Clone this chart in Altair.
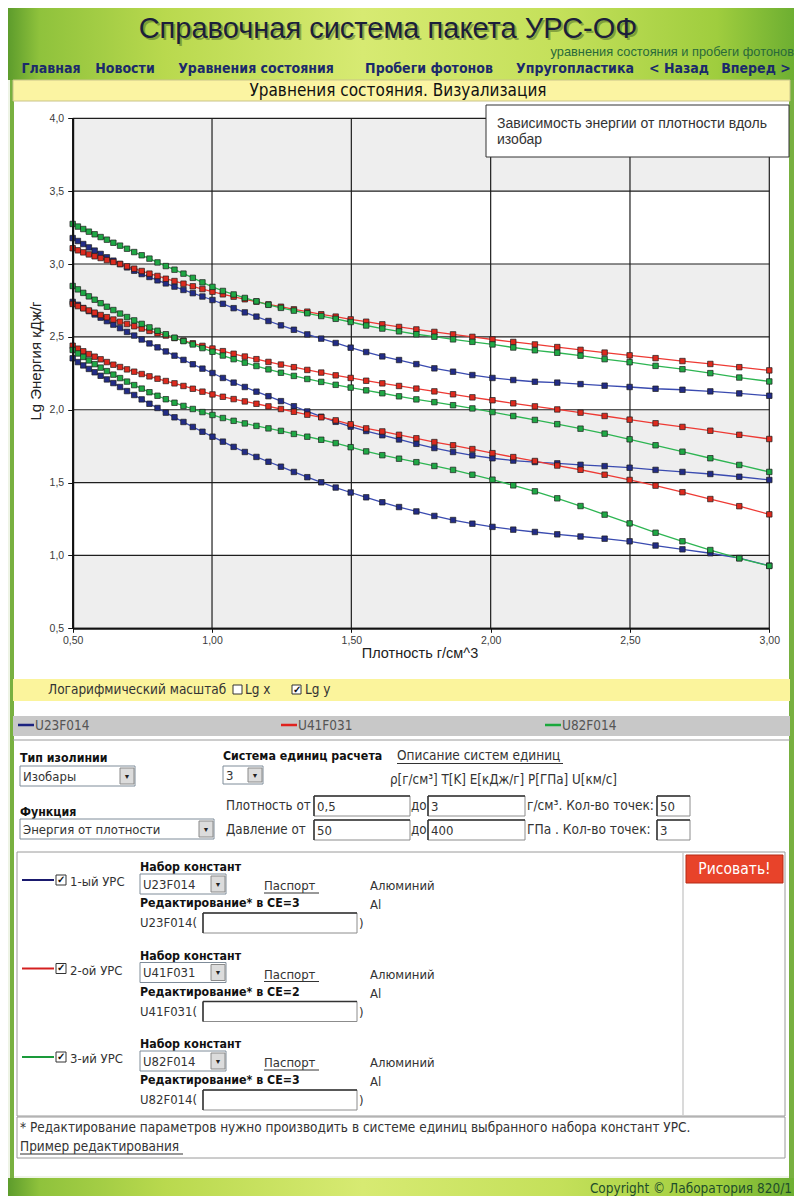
import altair as alt
import pandas as pd

# ---------------- data ----------------
density = [0.5, 0.5186, 0.5379, 0.558, 0.5788, 0.6003, 0.6227, 0.6459, 0.6699, 0.6949,
           0.7207, 0.7476, 0.7754, 0.8043, 0.8342, 0.8653, 0.8975, 0.931, 0.9656, 1.0016,
           1.0389, 1.0776, 1.1177, 1.1594, 1.2025, 1.2473, 1.2938, 1.342, 1.392, 1.4438,
           1.4976, 1.5533, 1.6112, 1.6712, 1.7334, 1.798, 1.865, 1.9344, 2.0065, 2.0812,
           2.1587, 2.2391, 2.3225, 2.409, 2.4987, 2.5918, 2.6883, 2.7884, 2.8923, 3.0]

models = ["U23F014", "U41F031", "U82F014"]
pressures = [50, 225, 400]

u23_p50 = [2.353, 2.327, 2.304, 2.280, 2.257, 2.233, 2.208, 2.183, 2.156, 2.128,
           2.101, 2.071, 2.041, 2.012, 1.980, 1.948, 1.916, 1.882, 1.849, 1.815,
           1.781, 1.745, 1.710, 1.676, 1.643, 1.609, 1.573, 1.537, 1.502, 1.466,
           1.432, 1.399, 1.365, 1.332, 1.302, 1.271, 1.243, 1.218, 1.196, 1.177,
           1.161, 1.145, 1.130, 1.115, 1.097, 1.068, 1.042, 1.015, 0.982, 0.930]
u23_p225 = [2.740, 2.720, 2.698, 2.677, 2.654, 2.632, 2.608, 2.584, 2.560, 2.534,
            2.509, 2.482, 2.455, 2.428, 2.400, 2.371, 2.342, 2.312, 2.282, 2.252,
            2.218, 2.186, 2.156, 2.124, 2.093, 2.059, 2.024, 1.988, 1.952, 1.917,
            1.884, 1.854, 1.825, 1.796, 1.766, 1.737, 1.710, 1.687, 1.667, 1.651,
            1.641, 1.632, 1.622, 1.613, 1.602, 1.587, 1.573, 1.559, 1.540, 1.518]
u23_p400 = [3.178, 3.158, 3.137, 3.114, 3.092, 3.069, 3.046, 3.023, 3.000, 2.977,
            2.954, 2.931, 2.911, 2.888, 2.867, 2.845, 2.822, 2.800, 2.777, 2.753,
            2.727, 2.697, 2.668, 2.639, 2.609, 2.579, 2.549, 2.517, 2.488, 2.458,
            2.426, 2.396, 2.366, 2.341, 2.313, 2.284, 2.261, 2.238, 2.218, 2.204,
            2.192, 2.186, 2.176, 2.165, 2.156, 2.144, 2.137, 2.126, 2.112, 2.096]
u41_p50 = [2.439, 2.419, 2.401, 2.382, 2.364, 2.346, 2.327, 2.309, 2.293, 2.277,
           2.261, 2.245, 2.229, 2.213, 2.197, 2.181, 2.163, 2.144, 2.124, 2.105,
           2.089, 2.073, 2.057, 2.041, 2.023, 2.005, 1.986, 1.966, 1.948, 1.927,
           1.900, 1.872, 1.851, 1.828, 1.804, 1.778, 1.756, 1.730, 1.702, 1.675,
           1.648, 1.617, 1.588, 1.554, 1.518, 1.479, 1.434, 1.387, 1.338, 1.282]
u41_p225 = [2.726, 2.711, 2.696, 2.681, 2.666, 2.650, 2.635, 2.619, 2.604, 2.588,
            2.573, 2.557, 2.541, 2.525, 2.509, 2.492, 2.474, 2.456, 2.438, 2.420,
            2.402, 2.384, 2.365, 2.347, 2.328, 2.310, 2.292, 2.273, 2.255, 2.236,
            2.218, 2.199, 2.181, 2.163, 2.145, 2.126, 2.106, 2.085, 2.065, 2.044,
            2.023, 2.002, 1.980, 1.957, 1.932, 1.907, 1.882, 1.856, 1.828, 1.799]
u41_p400 = [3.108, 3.094, 3.080, 3.066, 3.053, 3.041, 3.027, 3.014, 3.000, 2.984,
            2.968, 2.952, 2.934, 2.918, 2.899, 2.883, 2.865, 2.847, 2.828, 2.810,
            2.792, 2.776, 2.758, 2.742, 2.723, 2.707, 2.689, 2.673, 2.655, 2.639,
            2.620, 2.604, 2.586, 2.568, 2.551, 2.534, 2.517, 2.500, 2.482, 2.465,
            2.448, 2.430, 2.411, 2.392, 2.373, 2.354, 2.334, 2.314, 2.292, 2.270]
u82_p50 = [2.410, 2.386, 2.362, 2.338, 2.313, 2.289, 2.265, 2.241, 2.217, 2.193,
           2.169, 2.145, 2.120, 2.096, 2.072, 2.048, 2.026, 2.005, 1.984, 1.964,
           1.943, 1.924, 1.906, 1.889, 1.872, 1.855, 1.834, 1.815, 1.794, 1.771,
           1.743, 1.714, 1.688, 1.664, 1.640, 1.614, 1.587, 1.554, 1.520, 1.481,
           1.440, 1.392, 1.339, 1.280, 1.220, 1.156, 1.097, 1.037, 0.980, 0.928]
u82_p225 = [2.849, 2.826, 2.802, 2.778, 2.755, 2.731, 2.707, 2.684, 2.660, 2.636,
            2.613, 2.589, 2.565, 2.542, 2.518, 2.494, 2.471, 2.448, 2.423, 2.398,
            2.372, 2.347, 2.323, 2.300, 2.277, 2.254, 2.232, 2.211, 2.191, 2.171,
            2.152, 2.133, 2.113, 2.092, 2.071, 2.052, 2.031, 2.009, 1.984, 1.957,
            1.930, 1.901, 1.870, 1.836, 1.797, 1.756, 1.712, 1.667, 1.621, 1.573]
u82_p400 = [3.275, 3.257, 3.240, 3.222, 3.204, 3.185, 3.167, 3.146, 3.126, 3.105,
            3.082, 3.060, 3.037, 3.011, 2.986, 2.961, 2.934, 2.905, 2.874, 2.843,
            2.815, 2.791, 2.767, 2.744, 2.720, 2.699, 2.680, 2.662, 2.643, 2.624,
            2.602, 2.578, 2.557, 2.538, 2.518, 2.501, 2.483, 2.466, 2.448, 2.427,
            2.408, 2.391, 2.371, 2.347, 2.326, 2.301, 2.278, 2.251, 2.221, 2.194]

x_ticks = [0.5, 1.0, 1.5, 2.0, 2.5, 3.0]
y_ticks = [0.5, 1.0, 1.5, 2.0, 2.5, 3.0, 3.5, 4.0]
band_lo = [0.5, 1.5, 2.5, 3.5]
band_hi = [1.0, 2.0, 3.0, 4.0]

series = {
    ("U23F014", 50): u23_p50, ("U23F014", 225): u23_p225, ("U23F014", 400): u23_p400,
    ("U41F031", 50): u41_p50, ("U41F031", 225): u41_p225, ("U41F031", 400): u41_p400,
    ("U82F014", 50): u82_p50, ("U82F014", 225): u82_p225, ("U82F014", 400): u82_p400,
}
rows = []
for (m, p), vals in series.items():
    for d, e in zip(density, vals):
        rows.append({"density": d, "energy": e, "model": m, "series": f"{m}-{p}"})
df = pd.DataFrame(rows)

# ---------------- styling ----------------
W, H = 786, 1188
SANS = "Liberation Sans, Arial, sans-serif"
NARROW = "Liberation Sans Narrow, Arial Narrow, DejaVu Sans Condensed, sans-serif"
line_colors = ["#3a4bb0", "#ee3a34", "#2db552"]
marker_colors = ["#222c86", "#dd2a1e", "#1fa845"]

XL, XR = 72.7 - 8, 769.3 - 8
YB, YT = 628.3 - 8, 118.3 - 8
XS = alt.Scale(domain=[0.5, 3.0], range=[XL, XR], nice=False, zero=False)
YS = alt.Scale(domain=[0.5, 4.0], range=[YB, YT], nice=False, zero=False)
AX = alt.Axis(values=x_ticks, orient="bottom", offset=YB - H, grid=False, title=None, zindex=2,
              labelExpr="replace(format(datum.value, '.2f'), '.', ',')",
              domainColor="#111", domainWidth=2, tickColor="#111", tickSize=4,
              labelColor="#3a3a3a", labelFont=SANS, labelFontSize=10.5, labelPadding=3,
              labelFlush=False, labelOverlap=False)
AY = alt.Axis(values=y_ticks, orient="left", offset=-XL, grid=False, title=None, zindex=2,
              labelExpr="replace(format(datum.value, '.1f'), '.', ',')",
              domainColor="#111", domainWidth=2, tickColor="#111", tickSize=5,
              labelColor="#3a3a3a", labelFont=SANS, labelFontSize=10.5, labelPadding=4,
              labelFlush=False, labelOverlap=False)

ONE = pd.DataFrame({"k": [0]})


def T(x, y, s, size=12.5, color="#333", weight="normal", align="left", font=SANS,
      angle=0, opacity=1.0):
    return alt.Chart(ONE).mark_text(
        text=s, fontSize=size, color=color, fontWeight=weight, align=align,
        baseline="middle", font=font, angle=angle, opacity=opacity
    ).encode(x=alt.value(x - 8), y=alt.value(y - 8))


def R(x1, y1, x2, y2, fill="white", stroke=None, sw=1.0):
    kw = {}
    if fill is None:
        kw["fillOpacity"] = 0
        kw["fill"] = "white"
    else:
        kw["fill"] = fill
    if stroke:
        kw["stroke"] = stroke
        kw["strokeWidth"] = sw
    return alt.Chart(ONE).mark_rect(**kw).encode(
        x=alt.value(x1 - 8), x2=alt.value(x2 - 8), y=alt.value(y1 - 8), y2=alt.value(y2 - 8))


def L(x1, y1, x2, y2, color="#999", w=1.0):
    return alt.Chart(ONE).mark_rule(color=color, strokeWidth=w).encode(
        x=alt.value(x1 - 8), x2=alt.value(x2 - 8), y=alt.value(y1 - 8), y2=alt.value(y2 - 8))


def grad(stops, vertical=False):
    return alt.LinearGradient(
        gradient="linear",
        stops=[alt.GradientStop(color=c, offset=o) for o, c in stops],
        x1=0, x2=0 if vertical else 1, y1=0, y2=1 if vertical else 0)


layers = []
# ---- page frame ----
green_h = grad([(0, "#5d9c2c"), (0.04, "#8fc23c"), (0.2, "#b9d94e"), (0.45, "#d7ea72"),
                (0.7, "#c4e05a"), (0.9, "#9fcd3e"), (1, "#6cae31")])
layers.append(R(8, 7, 796, 80, fill=green_h))
layers.append(R(10, 80, 14, 1178, fill="#78b040"))
layers.append(R(789, 80, 796, 1178, fill="#78b040"))
layers.append(R(14, 80, 789, 1176, fill="white"))
layers.append(R(8, 1178, 796, 1204, fill=green_h))

# header texts
layers.append(T(390, 31, "Справочная система пакета УРС-ОФ", size=29, color="#3b5a1e",
                align="center", opacity=0.45))
layers.append(T(388, 29, "Справочная система пакета УРС-ОФ", size=29, color="#1c1f3a",
                align="center"))
layers.append(T(794, 52, "уравнения состояния и пробеги фотонов", size=12.8, color="#2a6a3a", align="right"))
for cx, s in [(51, "Главная"), (125, "Новости"), (256, "Уравнения состояния"),
              (429, "Пробеги фотонов"), (575, "Упругопластика"), (679, "< Назад"),
              (756, "Вперед >")]:
    layers.append(T(cx, 69, s, size=14, color="#1b2a6b", weight="bold", align="center", font=NARROW))

# yellow title bar
layers.append(R(13, 80, 790, 101, fill="#fbf4a2", stroke="#c9c48a"))
layers.append(T(398, 91, "Уравнения состояния. Визуализация", size=17, color="#111",
                align="center", font=NARROW))

# ---- plot ----
bands = alt.Chart(pd.DataFrame({"lo": band_lo, "hi": band_hi})).mark_rect(fill="#eeeeee").encode(
    x=alt.XDatum(0.5, type="quantitative", scale=XS, axis=AX), x2=alt.X2Datum(3.0),
    y=alt.Y("lo:Q", scale=YS, axis=AY), y2="hi:Q")
vgrid = alt.Chart(pd.DataFrame({"xt": x_ticks})).mark_rule(color="#1e1e1e", strokeWidth=1.2).encode(
    x=alt.X("xt:Q", scale=XS, axis=AX),
    y=alt.YDatum(0.5, type="quantitative", scale=YS, axis=AY), y2=alt.Y2Datum(4.0))
hgrid = alt.Chart(pd.DataFrame({"yt": y_ticks})).mark_rule(color="#1e1e1e", strokeWidth=1.2).encode(
    y=alt.Y("yt:Q", scale=YS, axis=AY),
    x=alt.XDatum(0.5, type="quantitative", scale=XS, axis=AX), x2=alt.X2Datum(3.0))
lines = alt.Chart(df).mark_line(strokeWidth=1.3).encode(
    x=alt.X("density:Q", scale=XS, axis=AX),
    y=alt.Y("energy:Q", scale=YS, axis=AY),
    stroke=alt.Stroke("model:N", scale=alt.Scale(domain=models, range=line_colors), legend=None),
    detail="series:N")
points = alt.Chart(df).mark_square(size=30, stroke="#1c1c1c", strokeWidth=0.7, opacity=1).encode(
    x=alt.X("density:Q", scale=XS, axis=AX),
    y=alt.Y("energy:Q", scale=YS, axis=AY),
    fill=alt.Fill("model:N", scale=alt.Scale(domain=models, range=marker_colors), legend=None))
layers += [bands, vgrid, hgrid, lines, points]

# chart title box and axis titles
layers.append(R(486, 105, 789, 157, fill="white", stroke="#333"))
layers.append(T(497, 124, "Зависимость энергии от плотности вдоль", size=14, color="#333"))
layers.append(T(497, 140, "изобар", size=14, color="#333"))
layers.append(T(420, 654, "Плотность г/см^3", size=14.5, color="#222", align="center"))
layers.append(T(36, 361, "Lg Энергия кДж/г", size=15, color="#222", align="center", angle=270))

# ---- log-scale bar ----
layers.append(R(13, 679, 790, 701, fill="#fbf49c"))
layers.append(T(48, 690, "Логарифмический масштаб", size=13.5, color="#333", font=NARROW))
layers.append(R(233, 685, 242, 694, fill="white", stroke="#333"))
layers.append(T(245, 690, "Lg x", size=13.5, color="#333", font=NARROW))
layers.append(R(292, 685, 301, 694, fill="white", stroke="#333"))
layers.append(T(296.5, 689.5, "✓", size=10, color="#111", weight="bold", align="center"))
layers.append(T(305, 690, "Lg y", size=13.5, color="#333", font=NARROW))

# ---- series legend bar ----
layers.append(R(13, 716, 790, 736, fill="#c8c8c8"))
for x0, col, name in [(18, "#1c2380", "U23F014"), (281, "#e0221e", "U41F031"), (545, "#1aa83c", "U82F014")]:
    layers.append(L(x0, 725, x0 + 16, 725, color=col, w=2.5))
    layers.append(T(x0 + 17, 725.5, name, size=13.5, color="#555", font=NARROW))
layers.append(L(13, 740, 790, 740, color="#9a9a9a"))


def select_box(x1, y1, x2, y2, label):
    out = [R(x1, y1, x2, y2, fill="white", stroke="#7f8c99"),
           T(x1 + 3, (y1 + y2) / 2 + 0.5, label, size=13, color="#333", font=NARROW),
           R(x2 - 15, y1 + 2, x2 - 1, y2 - 2, fill="#dcdcdc", stroke="#8a8a8a"),
           T(x2 - 8, (y1 + y2) / 2 + 0.5, "▼", size=7, color="#222", align="center")]
    return out


def input_box(x1, y1, x2, y2, label=""):
    out = [R(x1, y1, x2, y2, fill="white", stroke="#8c8c8c"),
           L(x1, y1, x2, y1, color="#333", w=1.5), L(x1, y1, x1, y2, color="#333", w=1.5)]
    if label:
        out.append(T(x1 + 3, (y1 + y2) / 2 + 0.5, label, size=13, color="#333", font=NARROW))
    return out


BOLD = 12.3
# ---- form ----
layers.append(T(20, 758, "Тип изолинии", size=BOLD, color="#111", weight="bold", font=NARROW))
layers += select_box(20, 766, 135, 786, "Изобары")
layers.append(T(223, 756, "Система единиц расчета", size=BOLD, color="#111", weight="bold", font=NARROW))
layers.append(T(397, 756, "Описание систем единиц", size=13.5, color="#333", font=NARROW))
layers.append(L(397, 763.5, 563, 763.5, color="#333"))
layers += select_box(223, 766, 263, 784, "3")
layers.append(T(390, 780, "ρ[г/см³]  T[K]  E[кДж/г]  P[ГПа]  U[км/с]", size=13.3, color="#333", font=NARROW))
layers.append(T(20, 812, "Функция", size=BOLD, color="#111", weight="bold", font=NARROW))
layers += select_box(20, 819, 214, 839, "Энергия от плотности")

layers.append(T(226, 806, "Плотность от", size=13.3, color="#333", font=NARROW))
layers += input_box(314, 796, 410, 816, "0,5")
layers.append(T(411, 806, "до", size=13.3, color="#333", font=NARROW))
layers += input_box(428, 796, 525, 816, "3")
layers.append(T(527, 806, "г/см³. Кол-во точек:", size=13.6, color="#333", font=NARROW))
layers += input_box(657, 796, 690, 816, "50")
layers.append(T(226, 830, "Давление  от", size=13.3, color="#333", font=NARROW))
layers += input_box(314, 820, 410, 840, "50")
layers.append(T(411, 830, "до", size=13.3, color="#333", font=NARROW))
layers += input_box(428, 820, 525, 840, "400")
layers.append(T(527, 830, "ГПа  . Кол-во точек:", size=13.6, color="#333", font=NARROW))
layers += input_box(657, 820, 690, 840, "3")

# EOS selection box
layers.append(R(17, 852, 785, 1116, fill=None, stroke="#9a9a9a"))
layers.append(L(683, 853, 683, 1115, color="#b5b5b5"))
layers.append(R(686, 855, 783, 883, fill="#e8432a", stroke="#b52a14"))
layers.append(T(734.5, 869, "Рисовать!", size=15.5, color="white", align="center", font=NARROW))

eos_rows = [("#1a1a6e", "1-ый УРС", "U23F014", "Редактирование* в СЕ=3"),
            ("#d42020", "2-ой УРС", "U41F031", "Редактирование* в СЕ=2"),
            ("#1a9a3a", "3-ий УРС", "U82F014", "Редактирование* в СЕ=3")]
for k, (col, lab, code, edit) in enumerate(eos_rows):
    dy = 88.5 * k
    layers.append(L(22, 880 + dy, 54, 880 + dy, color=col, w=2))
    layers.append(R(56, 875 + dy, 66, 885 + dy, fill="white", stroke="#333"))
    layers.append(T(61, 879.5 + dy, "✓", size=10, color="#111", weight="bold", align="center"))
    layers.append(T(70, 882 + dy, lab, size=13, color="#333", font=NARROW))
    layers.append(T(140, 867 + dy, "Набор констант", size=BOLD, color="#111", weight="bold", font=NARROW))
    layers += select_box(140, 874 + dy, 226, 894 + dy, code)
    layers.append(T(264, 886 + dy, "Паспорт", size=13, color="#333", font=NARROW))
    layers.append(L(264, 893 + dy, 319, 893 + dy, color="#333"))
    layers.append(T(370, 886 + dy, "Алюминий", size=13, color="#333", font=NARROW))
    layers.append(T(140, 903 + dy, edit, size=BOLD, color="#111", weight="bold", font=NARROW))
    layers.append(T(370, 905 + dy, "Al", size=13, color="#333", font=NARROW))
    layers.append(T(140, 923 + dy, code + "(", size=13, color="#333", font=NARROW))
    layers += input_box(203, 913 + dy, 357, 933 + dy)
    layers.append(T(359, 924 + dy, ")", size=13, color="#333", font=NARROW))

# footnote
layers.append(R(17, 1117, 785, 1158, fill=None, stroke="#9a9a9a"))
layers.append(T(20, 1128, "* Редактирование параметров нужно производить в системе единиц выбранного набора констант УРС.",
                size=13.5, color="#333", font=NARROW))
layers.append(T(20, 1147, "Пример редактирования", size=13.5, color="#333", font=NARROW))
layers.append(L(20, 1154, 183, 1154, color="#333"))

# footer
layers.append(T(792, 1189, "Copyright © Лаборатория 820/1", size=13.5, color="#1e4d2b", align="right", font=NARROW))

chart = alt.layer(*layers).properties(
    width=W, height=H, padding=0,
    autosize=alt.AutoSizeParams(type="none"),
    background="#eef4e6",
).configure_view(stroke=None)

chart.save("out.html", embed_options={"renderer": "svg", "actions": False})
